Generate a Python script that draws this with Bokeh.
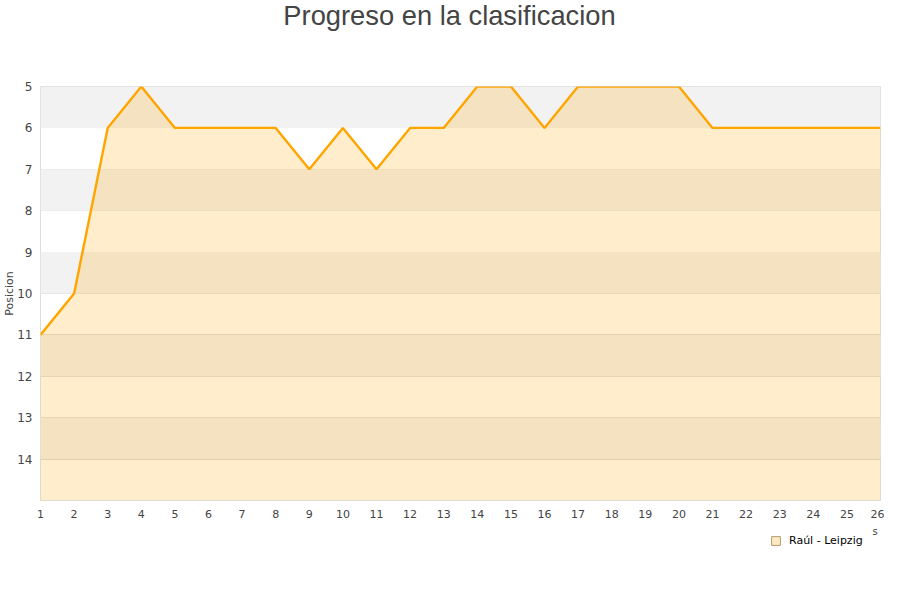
from bokeh.plotting import figure
from bokeh.models import Range1d, FixedTicker, Legend, LegendItem, Label
from bokeh.layouts import column
from bokeh.embed import file_html
from bokeh.resources import INLINE

jornadas = list(range(1, 27))
posiciones = [11, 10, 6, 5, 6, 6, 6, 6, 7, 6, 7, 6, 6, 5, 5, 6, 5, 5, 5, 5, 6, 6, 6, 6, 6, 6]
y_ticks = [5, 6, 7, 8, 9, 10, 11, 12, 13, 14]
band_bottoms = [5, 7, 9, 11, 13]
serie = "Raúl - Leipzig"
titulo = "Progreso en la clasificacion"
eje_x_resto = "s"

W = 884
# frames of the stacked figures are aligned by the column layout: page x 40..880

# --- title strip
p0 = figure(width=W, height=40, output_backend="svg", toolbar_location=None,
            x_range=Range1d(40, 880), y_range=Range1d(40, 0), min_border=0)
p0.axis.visible = False
p0.grid.visible = False
p0.outline_line_color = None
p0.add_layout(Label(x=449, y=15, text=titulo, text_font="Liberation Sans",
                    text_font_size="27.3px", text_color="#444444",
                    text_align="center", text_baseline="middle"))

# --- main chart
p = figure(width=W, height=486, output_backend="svg", toolbar_location=None,
           x_range=Range1d(1, 26), y_range=Range1d(15, 5),
           min_border_left=40, min_border_right=4, min_border_bottom=26, min_border_top=46)

p.outline_line_color = "#dddddd"
p.background_fill_color = "white"
p.border_fill_color = "white"

p.quad(left=1, right=26, bottom=band_bottoms, top=[b + 1 for b in band_bottoms],
       fill_color="#f2f2f2", line_color=None)

p.xgrid.grid_line_color = None
p.ygrid.grid_line_color = "#dddddd"
p.ygrid.ticker = FixedTicker(ticks=y_ticks)

p.varea(x=jornadas, y1=posiciones, y2=15, fill_color="#ffa500", fill_alpha=0.2)
p.line(x=jornadas, y=posiciones, line_color="#ffa500", line_width=2.4)

p.yaxis.ticker = FixedTicker(ticks=y_ticks)
p.xaxis.ticker = FixedTicker(ticks=jornadas)
for ax in (p.xaxis[0], p.yaxis[0]):
    ax.axis_line_color = None
    ax.major_tick_line_color = None
    ax.minor_tick_line_color = None
    ax.major_tick_out = 0
    ax.major_tick_in = 0
    ax.minor_tick_out = 0
    ax.minor_tick_in = 0
    ax.major_label_text_color = "#444444"
    ax.major_label_text_font = "DejaVu Sans"
p.yaxis.major_label_text_font_size = "12px"
p.xaxis.major_label_text_font_size = "11px"
p.yaxis.major_label_standoff = 8
p.xaxis.major_label_standoff = 9
p.yaxis.axis_label = "Posicion"
p.yaxis.axis_label_text_font = "DejaVu Sans"
p.yaxis.axis_label_text_font_size = "11px"
p.yaxis.axis_label_text_font_style = "normal"
p.yaxis.axis_label_text_color = "#444444"
p.yaxis.axis_label_standoff = -2

# --- strip below: legend and the clipped axis-title remnant
p2 = figure(width=W, height=58, output_backend="svg", toolbar_location=None,
            x_range=Range1d(40, 880), y_range=Range1d(58, 0), min_border=0)
p2.axis.visible = False
p2.grid.visible = False
p2.outline_line_color = None
p2.border_fill_color = "white"

# legend swatch renderer (series values fall outside this strip's range, so only the swatch shows)
leg_r = p2.quad(left=jornadas, right=jornadas, top=posiciones, bottom=posiciones,
                fill_color="#fde8c4", line_color="#b89a6a", line_width=1)

legend = Legend(items=[LegendItem(label=serie, renderers=[leg_r])],
                location=(730, 37), glyph_width=11, glyph_height=11, padding=0,
                margin=0, label_standoff=8, border_line_color=None,
                background_fill_alpha=0,
                label_text_font="DejaVu Sans", label_text_font_size="11px",
                label_text_color="#000000")
p2.add_layout(legend, "center")

p2.add_layout(Label(x=872, y=-1, text=eje_x_resto, text_font="DejaVu Sans",
                    text_font_size="10px", text_color="#444444",
                    text_baseline="top", text_align="left"))

layout = column(p0, p, p2, spacing=0)
open("out.html", "w").write(file_html(layout, INLINE))
